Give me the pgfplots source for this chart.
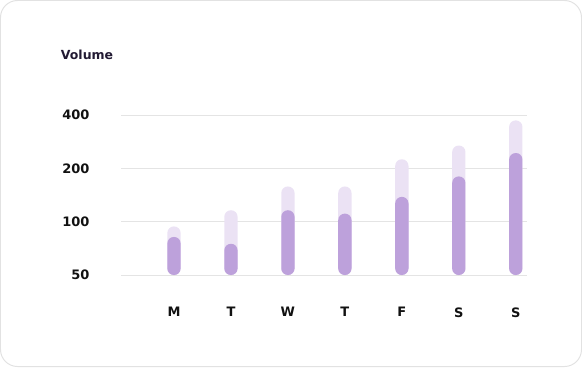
\documentclass[border=0pt]{standalone}
\usepackage{pgfplots}
\pgfplotsset{compat=1.18}
\usepackage{pgfplotstable}
\usepackage{fontspec}
\setmainfont{DejaVu Sans}
\definecolor{barDark}{HTML}{BDA1DB}
\definecolor{barLight}{HTML}{EBE2F4}
\definecolor{gridc}{HTML}{E4E4E4}
\definecolor{cardc}{HTML}{E2E2E2}
\definecolor{titlec}{HTML}{221A33}
\definecolor{tickc}{HTML}{111111}
\pgfplotstableread{
x light dark
0 94 82
1 116 75
2 158 116
3 158 111
4 225 138
5 269 180
6 373 244
}\voltable
\begin{document}
\begin{tikzpicture}[x=1bp,y=1bp]
\draw[cardc, line width=1bp, rounded corners=17bp] (0.5,0.5) rectangle (581.5,366.5);
\node[anchor=base west, inner sep=0, text=titlec, font=\fontsize{12.5bp}{15bp}\selectfont\bfseries] at (60.7,308) {Volume};
\begin{axis}[
 at={(121bp,92bp)}, anchor=south west,
 scale only axis, width=406bp, height=160bp,
 ymode=log, log basis y=2, log origin y=infty,
 ymin=50, ymax=400,
 xmin=-0.93, xmax=6.197,
 ytick={50,100,200,400}, yticklabels={50,100,200,400},
 xtick={0,...,6}, xticklabels={M,T,W,T,F,S,S},
 ymajorgrids, grid style={gridc, line width=0.8bp},
 axis line style={draw=none},
 major tick length=0pt,
 tick label style={font=\fontsize{13bp}{15bp}\selectfont\bfseries, text=tickc},
 yticklabel style={xshift=-28bp},
 xticklabel style={yshift=-29bp},
 ybar, bar width=13.3bp,
]
\addplot[fill=barLight, draw=none, rounded corners=6.5bp, bar shift=0pt] table[x=x, y=light] {\voltable};
\addplot[fill=barDark, draw=none, rounded corners=6.5bp, bar shift=0pt] table[x=x, y=dark] {\voltable};
\end{axis}
\pgfresetboundingbox
\useasboundingbox (0,0) rectangle (582,367);
\end{tikzpicture}
\end{document}
